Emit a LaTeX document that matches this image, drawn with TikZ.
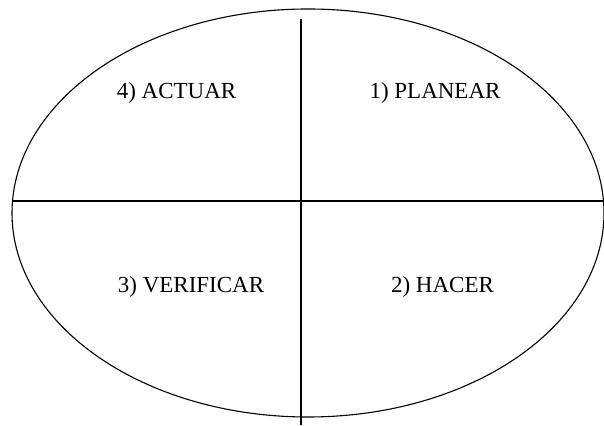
\documentclass[tikz,border=0pt]{standalone}
\usepackage{fontspec}
\setmainfont{Liberation Serif}
\usetikzlibrary{shapes.geometric}
\begin{document}
\begin{tikzpicture}[x=1pt,y=1pt,
  lbl/.style={anchor=base,inner sep=0pt,font=\fontsize{23}{26}\selectfont},
  oval/.style={draw,ellipse,line width=1.1pt,inner sep=0pt,minimum width=592pt,minimum height=408pt}]
\useasboundingbox (0,0) rectangle (604,425);
\node[oval] (e) at (308,212) {};
\coordinate (vt) at (301,406);
\coordinate (vb) at (301,0);
\coordinate (hl) at (12,224);
\coordinate (hr) at (604,224);
\draw[line width=1.4pt] (hl) -- (hr);
\draw[line width=1.7pt] (vt) -- (vb);
\node[lbl] (act) at (176.5,326) {4) ACTUAR};
\node[lbl] (pla) at (435,326) {1) PLANEAR};
\node[lbl] (ver) at (191,132) {3) VERIFICAR};
\node[lbl] (hac) at (442.5,132) {2) HACER};
\end{tikzpicture}
\end{document}
